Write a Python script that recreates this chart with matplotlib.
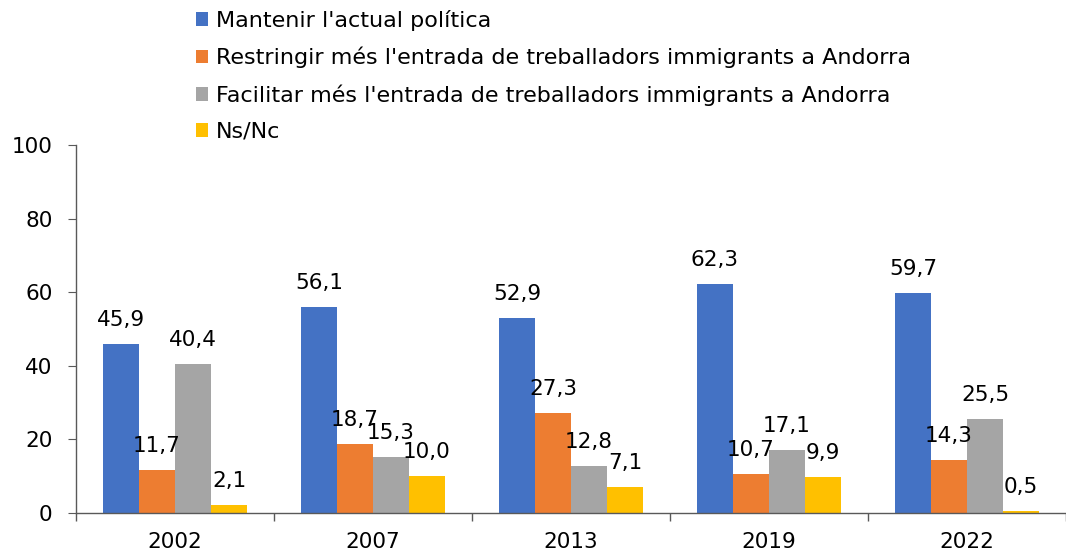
import matplotlib
matplotlib.use("Agg")
import matplotlib.pyplot as plt
import numpy as np

years = ["2002", "2007", "2013", "2019", "2022"]
series_names = [
    "Mantenir l'actual política",
    "Restringir més l'entrada de treballadors immigrants a Andorra",
    "Facilitar més l'entrada de treballadors immigrants a Andorra",
    "Ns/Nc",
]
mantenir = [45.9, 56.1, 52.9, 62.3, 59.7]
restringir = [11.7, 18.7, 27.3, 10.7, 14.3]
facilitar = [40.4, 15.3, 12.8, 17.1, 25.5]
nsnc = [2.1, 10.0, 7.1, 9.9, 0.5]
colors = ["#4472C4", "#ED7D31", "#A5A5A5", "#FFC000"]

plt.rcParams['font.family'] = ['DejaVu Sans']
fs = 15.5

fig = plt.figure(figsize=(10.66, 5.53), dpi=100)
ax = fig.add_axes([76/1066, 40/553, 1 - 76/1066, 368/553])

x = np.arange(len(years))
w = 0.182
data = [mantenir, restringir, facilitar, nsnc]
for i, (vals, c, name) in enumerate(zip(data, colors, series_names)):
    pos = x + (i - 1.5) * w
    ax.bar(pos, vals, width=w, color=c, label=name, edgecolor='none')
    for xb, v in zip(pos, vals):
        ax.annotate(f"{v:.1f}".replace('.', ','), (xb, v), xytext=(0, 10),
                    textcoords='offset points', ha='center', va='bottom',
                    fontsize=15.5, color='#000000')

ax.set_xlim(-0.5, len(years) - 0.5)
ax.set_ylim(0, 100)
ax.set_yticks(range(0, 101, 20))
ax.set_xticks(x)
ax.set_xticklabels(years)
ax.set_xticks(np.arange(-0.5, len(years)), minor=True)
ax.tick_params(axis='x', which='major', length=0, labelsize=fs, pad=14)
ax.tick_params(axis='x', which='minor', length=6, color='#595959', width=1)
ax.tick_params(axis='y', length=6, color='#595959', labelsize=fs, pad=11)
for s in ['top', 'right']:
    ax.spines[s].set_visible(False)
for s in ['left', 'bottom']:
    ax.spines[s].set_color('#595959')
    ax.spines[s].set_linewidth(1)

fig.legend(loc='upper left', bbox_to_anchor=(187/1066, 1 - 1/553), frameon=False,
           fontsize=16, handlelength=0.55, handleheight=0.55, handletextpad=0.35,
           labelspacing=0.72, borderaxespad=0)

fig.savefig("out.png", dpi=100)
